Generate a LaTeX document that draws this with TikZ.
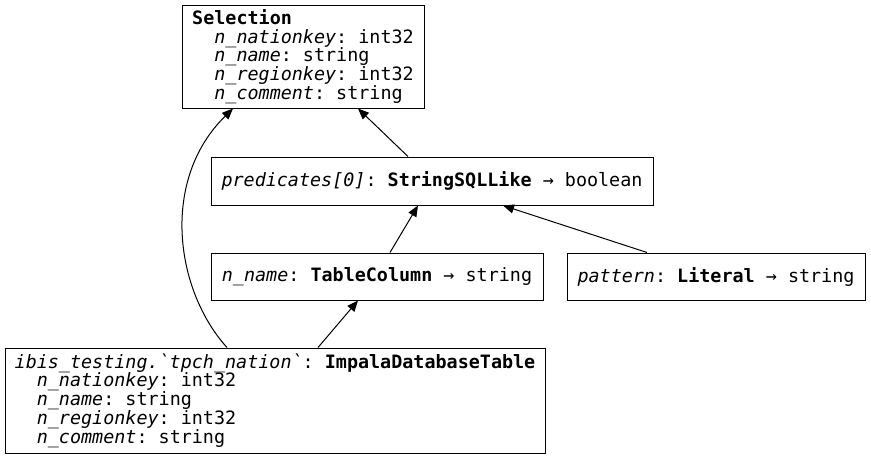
\documentclass[tikz,border=0pt]{standalone}
\usepackage{fontspec}
\setmainfont{DejaVu Sans}
\setmonofont{DejaVu Sans Mono}[ItalicFont={DejaVu Sans Mono Oblique},BoldFont={DejaVu Sans Mono Bold},BoldItalicFont={DejaVu Sans Mono Bold Oblique}]
\usetikzlibrary{arrows.meta}
\newcommand{\ind}{\hphantom{nn}}
\begin{document}
\begin{tikzpicture}[x=1pt,y=-1pt,
  box/.style={draw,line width=1pt,rectangle,inner sep=0pt,align=left,
    font=\ttfamily\fontsize{18.4}{18.7}\selectfont},
  edge/.style={line width=1pt,-{Triangle[length=11pt,width=9pt]}}]
\useasboundingbox (0,0) rectangle (871,459);
\node[box,minimum width=242pt,minimum height=103pt] (sel) at (303,56.5)
  {\textbf{Selection}\\
   \ind\textit{n\_nationkey}: int32\\
   \ind\textit{n\_name}: string\\
   \ind\textit{n\_regionkey}: int32\\
   \ind\textit{n\_comment}: string};
\node[box,minimum width=442pt,minimum height=48pt] (pred) at (432,181)
  {\textit{predicates[0]}: \textbf{StringSQLLike} → boolean};
\node[box,minimum width=332pt,minimum height=47pt] (col) at (377,276.5)
  {\textit{n\_name}: \textbf{TableColumn} → string};
\node[box,minimum width=298pt,minimum height=47pt] (pat) at (716,276.5)
  {\textit{pattern}: \textbf{Literal} → string};
\node[box,minimum width=540pt,minimum height=105pt] (tab) at (275,400.5)
  {\textit{ibis\_testing.\symbol{96}tpch\_nation\symbol{96}}: \textbf{ImpalaDatabaseTable}\\
   \ind\textit{n\_nationkey}: int32\\
   \ind\textit{n\_name}: string\\
   \ind\textit{n\_regionkey}: int32\\
   \ind\textit{n\_comment}: string};
\draw[edge] ([xshift=-24pt]pred.north) -- ([xshift=55pt]sel.south);
\draw[edge] ([xshift=13pt]col.north) -- ([xshift=-14pt]pred.south);
\draw[edge] ([xshift=-69pt]pat.north) -- ([xshift=71pt]pred.south);
\draw[edge] ([xshift=43pt]tab.north) -- ([xshift=-19pt]col.south);
\draw[edge] ([xshift=-48pt]tab.north) .. controls (175,290) and (160,180) .. ([xshift=-70pt]sel.south);
\end{tikzpicture}
\end{document}
